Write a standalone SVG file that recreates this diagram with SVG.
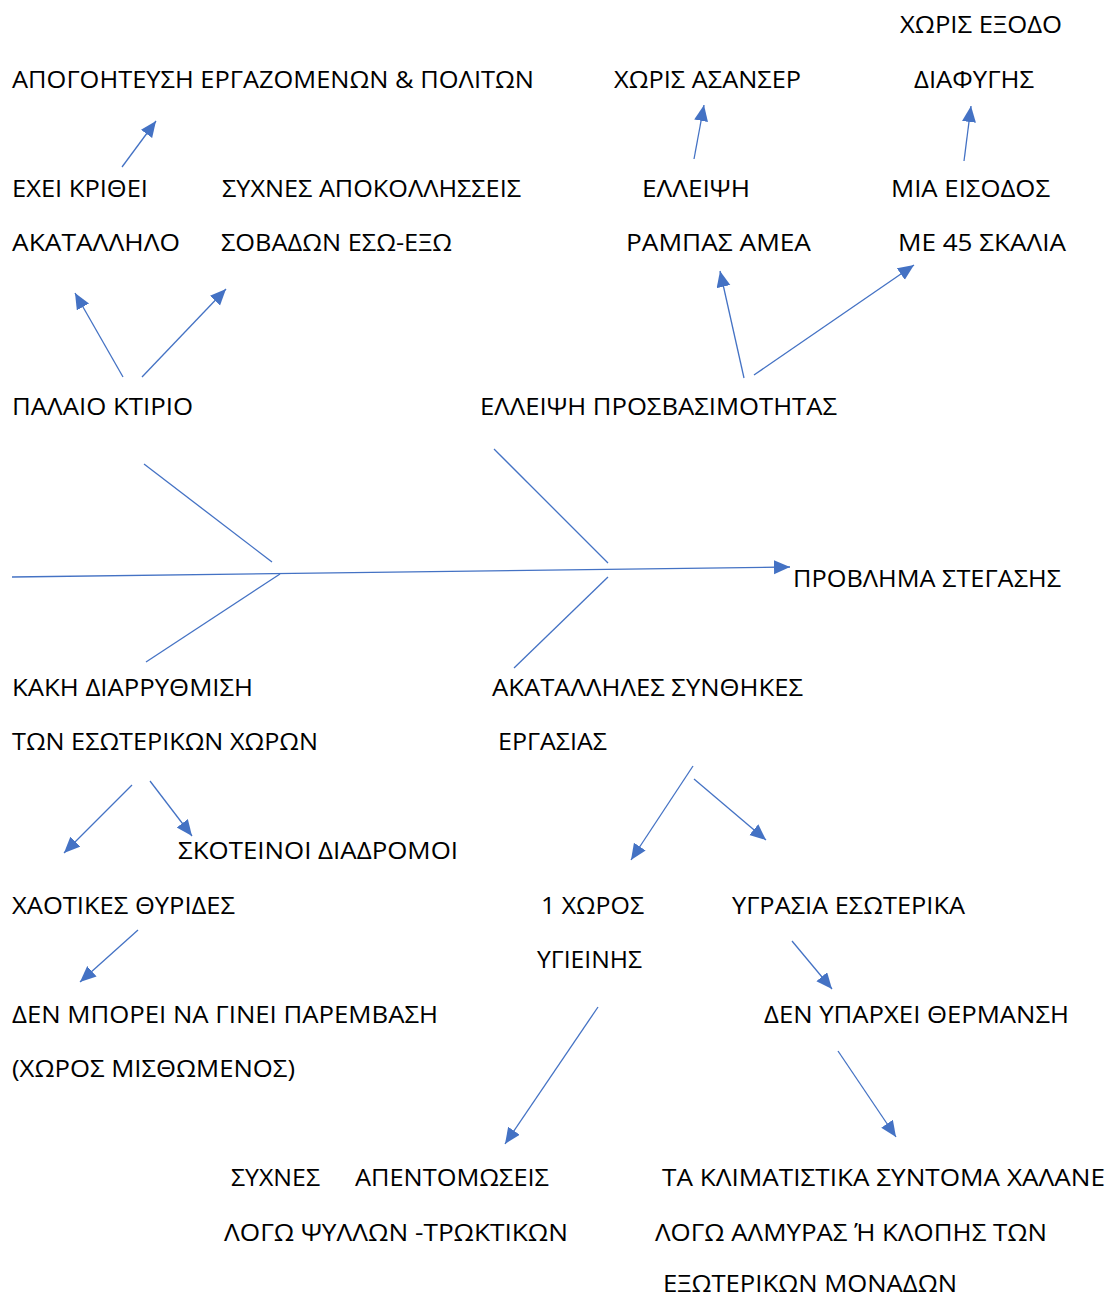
<svg xmlns="http://www.w3.org/2000/svg" width="1110" height="1297" viewBox="0 0 1110 1297">
  <style>
    text { font-family: "Open Sans", "Noto Sans", "Liberation Sans", sans-serif; font-size: 23px; fill: #000; }
    .ln { stroke: #4472C4; stroke-width: 1.3; fill: none; }
    .ar { stroke: #4472C4; stroke-width: 1.3; fill: none; marker-end: url(#head); }
  </style>
  <defs>
    <marker id="head" markerUnits="userSpaceOnUse" markerWidth="17" markerHeight="15" refX="16" refY="7" orient="auto">
      <path d="M0,0 L16,7 L0,14 z" fill="#4472C4"/>
    </marker>
  </defs>
  <rect width="1110" height="1297" fill="#fff"/>

  <!-- fishbone spine, ribs and cause arrows -->
  <g id="connectors">
    <line class="ar" x1="12" y1="577" x2="790" y2="567"/>
    <line class="ln" x1="144" y1="464" x2="272" y2="562"/>
    <line class="ln" x1="494" y1="449" x2="608" y2="563"/>
    <line class="ln" x1="280" y1="574" x2="146" y2="662"/>
    <line class="ln" x1="608" y1="577" x2="514" y2="668"/>

    <line class="ar" x1="122" y1="167" x2="156" y2="121"/>
    <line class="ar" x1="123" y1="377" x2="75" y2="293"/>
    <line class="ar" x1="142" y1="377" x2="226" y2="289"/>
    <line class="ar" x1="694" y1="159" x2="704" y2="105"/>
    <line class="ar" x1="964" y1="161" x2="971" y2="106"/>
    <line class="ar" x1="744" y1="378" x2="720" y2="271"/>
    <line class="ar" x1="754" y1="375" x2="914" y2="265"/>
    <line class="ar" x1="132" y1="785" x2="64" y2="853"/>
    <line class="ar" x1="150" y1="781" x2="192" y2="836"/>
    <line class="ar" x1="138" y1="930" x2="80" y2="982"/>
    <line class="ar" x1="693" y1="766" x2="631" y2="860"/>
    <line class="ar" x1="694" y1="779" x2="766" y2="840"/>
    <line class="ar" x1="792" y1="941" x2="832" y2="989"/>
    <line class="ar" x1="598" y1="1007" x2="505" y2="1144"/>
    <line class="ar" x1="838" y1="1051" x2="896" y2="1137"/>
  </g>

  <g id="problem">
    <text x="793" y="587" textLength="268" lengthAdjust="spacingAndGlyphs">ΠΡΟΒΛΗΜΑ ΣΤΕΓΑΣΗΣ</text>
  </g>

  <g id="old-building">
    <text x="12" y="415" textLength="181" lengthAdjust="spacingAndGlyphs">ΠΑΛΑΙΟ ΚΤΙΡΙΟ</text>
  </g>
  <g id="judged-unsuitable">
    <text x="12" y="197" textLength="136" lengthAdjust="spacingAndGlyphs">ΕΧΕΙ ΚΡΙΘΕΙ</text>
    <text x="12" y="251" textLength="168" lengthAdjust="spacingAndGlyphs">ΑΚΑΤΑΛΛΗΛΟ</text>
  </g>
  <g id="frustration">
    <text x="12" y="88" textLength="522" lengthAdjust="spacingAndGlyphs">ΑΠΟΓΟΗΤΕΥΣΗ ΕΡΓΑΖΟΜΕΝΩΝ &amp; ΠΟΛΙΤΩΝ</text>
  </g>
  <g id="plaster">
    <text x="222" y="197" textLength="299" lengthAdjust="spacingAndGlyphs">ΣΥΧΝΕΣ ΑΠΟΚΟΛΛΗΣΣΕΙΣ</text>
    <text x="221" y="251" textLength="231" lengthAdjust="spacingAndGlyphs">ΣΟΒΑΔΩΝ ΕΣΩ-ΕΞΩ</text>
  </g>

  <g id="accessibility">
    <text x="480" y="415" textLength="357" lengthAdjust="spacingAndGlyphs">ΕΛΛΕΙΨΗ ΠΡΟΣΒΑΣΙΜΟΤΗΤΑΣ</text>
  </g>
  <g id="no-ramp">
    <text x="642" y="197" textLength="108" lengthAdjust="spacingAndGlyphs">ΕΛΛΕΙΨΗ</text>
    <text x="626" y="251" textLength="185" lengthAdjust="spacingAndGlyphs">ΡΑΜΠΑΣ ΑΜΕΑ</text>
  </g>
  <g id="no-elevator">
    <text x="614" y="88" textLength="187" lengthAdjust="spacingAndGlyphs">ΧΩΡΙΣ ΑΣΑΝΣΕΡ</text>
  </g>
  <g id="one-entrance">
    <text x="891" y="197" textLength="159" lengthAdjust="spacingAndGlyphs">ΜΙΑ ΕΙΣΟΔΟΣ</text>
    <text x="898" y="251" textLength="168" lengthAdjust="spacingAndGlyphs">ΜΕ 45 ΣΚΑΛΙΑ</text>
  </g>
  <g id="no-escape">
    <text x="900" y="33" textLength="162" lengthAdjust="spacingAndGlyphs">ΧΩΡΙΣ ΕΞΟΔΟ</text>
    <text x="914" y="88" textLength="120" lengthAdjust="spacingAndGlyphs">ΔΙΑΦΥΓΗΣ</text>
  </g>

  <g id="layout">
    <text x="12" y="696" textLength="241" lengthAdjust="spacingAndGlyphs">ΚΑΚΗ ΔΙΑΡΡΥΘΜΙΣΗ</text>
    <text x="12" y="750" textLength="306" lengthAdjust="spacingAndGlyphs">ΤΩΝ ΕΣΩΤΕΡΙΚΩΝ ΧΩΡΩΝ</text>
  </g>
  <g id="dark-corridors">
    <text x="178" y="859" textLength="280" lengthAdjust="spacingAndGlyphs">ΣΚΟΤΕΙΝΟΙ ΔΙΑΔΡΟΜΟΙ</text>
  </g>
  <g id="counters">
    <text x="12" y="914" textLength="223" lengthAdjust="spacingAndGlyphs">ΧΑΟΤΙΚΕΣ ΘΥΡΙΔΕΣ</text>
  </g>
  <g id="rented">
    <text x="12" y="1023" textLength="426" lengthAdjust="spacingAndGlyphs">ΔΕΝ ΜΠΟΡΕΙ ΝΑ ΓΙΝΕΙ ΠΑΡΕΜΒΑΣΗ</text>
    <text x="12" y="1077" textLength="283" lengthAdjust="spacingAndGlyphs">(ΧΩΡΟΣ ΜΙΣΘΩΜΕΝΟΣ)</text>
  </g>

  <g id="conditions">
    <text x="492" y="696" textLength="311" lengthAdjust="spacingAndGlyphs">ΑΚΑΤΑΛΛΗΛΕΣ ΣΥΝΘΗΚΕΣ</text>
    <text x="498" y="750" textLength="109" lengthAdjust="spacingAndGlyphs">ΕΡΓΑΣΙΑΣ</text>
  </g>
  <g id="one-wc">
    <text x="541" y="914" textLength="103" lengthAdjust="spacingAndGlyphs">1 ΧΩΡΟΣ</text>
    <text x="537" y="968" textLength="105" lengthAdjust="spacingAndGlyphs">ΥΓΙΕΙΝΗΣ</text>
  </g>
  <g id="humidity">
    <text x="732" y="914" textLength="233" lengthAdjust="spacingAndGlyphs">ΥΓΡΑΣΙΑ ΕΣΩΤΕΡΙΚΑ</text>
  </g>
  <g id="no-heating">
    <text x="764" y="1023" textLength="305" lengthAdjust="spacingAndGlyphs">ΔΕΝ ΥΠΑΡΧΕΙ ΘΕΡΜΑΝΣΗ</text>
  </g>
  <g id="pest-control">
    <text x="231" y="1186" textLength="89" lengthAdjust="spacingAndGlyphs">ΣΥΧΝΕΣ</text>
    <text x="355" y="1186" textLength="194" lengthAdjust="spacingAndGlyphs">ΑΠΕΝΤΟΜΩΣΕΙΣ</text>
    <text x="224" y="1241" textLength="344" lengthAdjust="spacingAndGlyphs">ΛΟΓΩ ΨΥΛΛΩΝ -ΤΡΩΚΤΙΚΩΝ</text>
  </g>
  <g id="air-conditioning">
    <text x="662" y="1186" textLength="443" lengthAdjust="spacingAndGlyphs">ΤΑ ΚΛΙΜΑΤΙΣΤΙΚΑ ΣΥΝΤΟΜΑ ΧΑΛΑΝΕ</text>
    <text x="655" y="1241" textLength="392" lengthAdjust="spacingAndGlyphs">ΛΟΓΩ ΑΛΜΥΡΑΣ Ή ΚΛΟΠΗΣ ΤΩΝ</text>
    <text x="663" y="1292" textLength="294" lengthAdjust="spacingAndGlyphs">ΕΞΩΤΕΡΙΚΩΝ ΜΟΝΑΔΩΝ</text>
  </g>
</svg>
